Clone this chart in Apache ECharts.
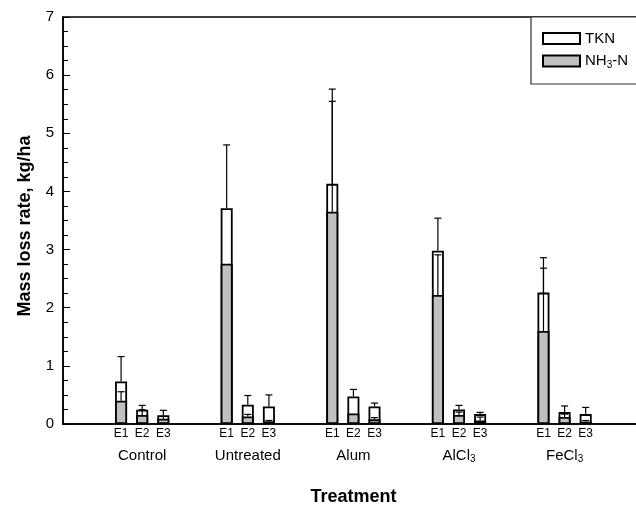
<!DOCTYPE html>
<html>
<head>
<meta charset="utf-8">
<script src="https://cdn.jsdelivr.net/npm/echarts@6/dist/echarts.min.js"></script>
<style>html,body{margin:0;padding:0;background:#fff}#c{width:636px;height:506px}</style>
</head>
<body>
<div id="c"></div>
<script>
// Categories
const groups = ['Control', 'Untreated', 'Alum', 'AlCl3', 'FeCl3'];
const groupLabels = ['{n|Control}', '{n|Untreated}', '{n|Alum}', '{n|AlCl}{s|3}', '{n|FeCl}{s|3}'];
const events = ['E1', 'E2', 'E3'];
const yTicks = [0, 1, 2, 3, 4, 5, 6, 7];
// Series values (per group: E1, E2, E3)
const tkn    = [0.73, 0.245, 0.15,  3.71, 0.33, 0.30,  4.13, 0.475, 0.30,  2.98, 0.25, 0.17,  2.26, 0.205, 0.17];
const tknErr = [0.43, 0.075, 0.085, 1.09, 0.16, 0.20,  1.63, 0.12, 0.06,   0.56, 0.07, 0.03,  0.60, 0.105, 0.115];
const nh3    = [0.40, 0.155, 0.09,  2.755, 0.13, 0.045, 3.65, 0.18, 0.08,  2.22, 0.155, 0.06, 1.60, 0.12, 0.04];
const nh3Err = [0.155, 0.09, 0.04,  0, 0.035, 0.015,   1.90, 0, 0.03,     0.69, 0.05, 0.06,  1.08, 0.05, 0.02];

const FONT = "'Liberation Sans', Arial, Helvetica, sans-serif";
const xs = [];
const xLabel = {};
groups.forEach((g, gi) => events.forEach((e, ei) => {
  const x = (gi + 1) + (ei - 1) * 0.2;
  xs.push(x);
  xLabel[x.toFixed(2)] = e;
}));
const tknData = xs.map((x, i) => [x, tkn[i]]);
const nh3Data = xs.map((x, i) => [x, nh3[i]]);
const errData = [];
xs.forEach((x, i) => {
  errData.push([x, tkn[i], tknErr[i]]);
  if (nh3Err[i] > 0) errData.push([x, nh3[i], nh3Err[i]]);
});

const chart = echarts.init(document.getElementById('c'));
chart.setOption({
  animation: false,
  backgroundColor: '#fff',
  textStyle: { fontFamily: FONT, color: '#000' },
  grid: { left: 63, top: 17, right: -8, bottom: 82, containLabel: false, outerBoundsMode: 'none', show: true, borderColor: '#000', borderWidth: 1.5, backgroundColor: 'transparent' },
  legend: {
    left: 531, top: 17,
    orient: 'vertical',
    backgroundColor: '#fff',
    borderColor: '#333', borderWidth: 1.2,
    padding: [13, 30, 14, 11],
    itemGap: 5,
    itemWidth: 37, itemHeight: 11,
    icon: 'rect',
    textStyle: {
      fontFamily: FONT, fontSize: 15, color: '#000', lineHeight: 17,
      rich: {
        n: { fontFamily: FONT, fontSize: 15, lineHeight: 17, color: '#000' },
        s: { fontFamily: FONT, fontSize: 10, lineHeight: 10, padding: [8, 0, 0, 0], color: '#000' }
      }
    },
    formatter: name => name === 'NH3-N' ? '{n|NH}{s|3}{n|-N}' : '{n|' + name + '}',
    data: ['TKN', 'NH3-N']
  },
  xAxis: [{
    type: 'value', min: 0.25, max: 5.752,
    axisLine: { show: true, onZero: false, lineStyle: { color: '#000', width: 1.5 } },
    axisTick: { show: false },
    splitLine: { show: false },
    axisLabel: {
      customValues: xs,
      formatter: v => xLabel[Number(v).toFixed(2)] || '',
      fontFamily: FONT, fontSize: 12, color: '#000', margin: 4
    },
    name: 'Treatment', nameLocation: 'middle', nameGap: 64,
    nameTextStyle: { fontFamily: FONT, fontSize: 18, fontWeight: 'bold', color: '#000', padding: [0, 0, 0, 0] }
  }, {
    type: 'value', min: 0.25, max: 5.752, position: 'bottom',
    axisLine: { show: false }, axisTick: { show: false }, splitLine: { show: false },
    axisLabel: {
      customValues: [1, 2, 3, 4, 5],
      formatter: v => groupLabels[Math.round(v) - 1] || '',
      margin: 23,
      rich: {
        n: { fontFamily: FONT, fontSize: 15, lineHeight: 17, color: '#000' },
        s: { fontFamily: FONT, fontSize: 10, lineHeight: 10, padding: [8, 0, 0, 0], color: '#000' }
      }
    }
  }],
  yAxis: {
    type: 'value', min: 0, max: 7, interval: 1,
    axisLine: { show: true, lineStyle: { color: '#000', width: 1.5 } },
    axisTick: { show: true, inside: true, length: 7, lineStyle: { color: '#000', width: 1 } },
    minorTick: { show: true, splitNumber: 4, length: 5, lineStyle: { color: '#000', width: 1 } },
    splitLine: { show: false },
    axisLabel: { fontFamily: FONT, fontSize: 15, color: '#000', margin: 9, formatter: v => yTicks.includes(v) ? String(v) : '' },
    name: 'Mass loss rate, kg/ha', nameLocation: 'middle', nameGap: 29,
    nameTextStyle: { fontFamily: FONT, fontSize: 18, fontWeight: 'bold', color: '#000', padding: [0, 11, 0, 0] }
  },
  series: [{
    name: 'TKN', type: 'bar', xAxisIndex: 0, barWidth: 12, barGap: '-100%',
    itemStyle: { color: '#fff', borderColor: '#000', borderWidth: 1.8 },
    data: tknData, z: 2
  }, {
    name: 'NH3-N', type: 'bar', xAxisIndex: 0, barWidth: 12, barGap: '-100%',
    itemStyle: { color: '#c0c0c0', borderColor: '#000', borderWidth: 1.8 },
    data: nh3Data, z: 3
  }, {
    name: 'err', type: 'custom', xAxisIndex: 0, z: 4,
    data: errData,
    encode: { x: 0, y: [1] },
    renderItem: (params, api) => {
      const x = api.value(0), v = api.value(1), e = api.value(2);
      const p0 = api.coord([x, v]);
      const p1 = api.coord([x, v + e]);
      const hw = 3.5;
      return {
        type: 'group',
        children: [
          { type: 'line', shape: { x1: p0[0], y1: p0[1], x2: p1[0], y2: p1[1] }, style: { stroke: '#000', lineWidth: 1.2 } },
          { type: 'line', shape: { x1: p1[0] - hw, y1: p1[1], x2: p1[0] + hw, y2: p1[1] }, style: { stroke: '#000', lineWidth: 1.2 } }
        ]
      };
    }
  }]
});
</script>
</body>
</html>
